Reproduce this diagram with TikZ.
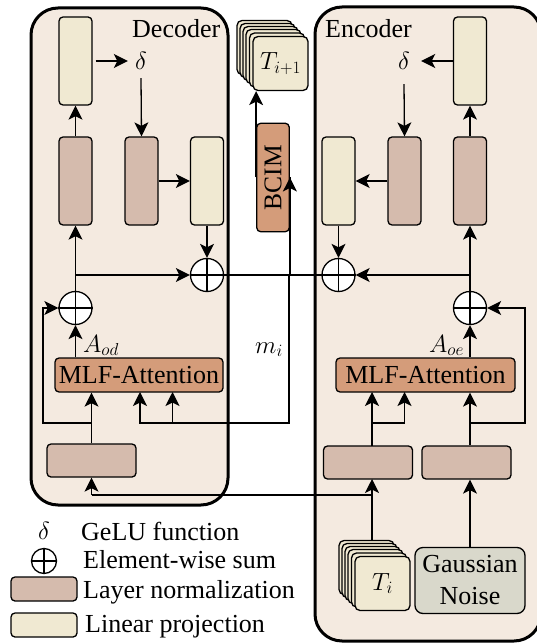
\documentclass[tikz,border=0pt]{standalone}
\usepackage[no-math]{fontspec}
\setmainfont{Liberation Serif}
\usetikzlibrary{arrows.meta,calc}
\definecolor{panel}{HTML}{F4EAE0}
\definecolor{lncol}{HTML}{D5BBAD}
\definecolor{lpcol}{HTML}{F0E9D2}
\definecolor{orcol}{HTML}{D49C7A}
\definecolor{gncol}{HTML}{D9D8CB}
\tikzset{
  panelbox/.style={draw,line width=3pt,rounded corners=27pt,fill=panel},
  blockbox/.style={draw,line width=1.3pt,rounded corners=4pt,inner sep=0pt},
  lnv/.style={blockbox,fill=lncol,minimum width=33pt,minimum height=88pt},
  lpv/.style={blockbox,fill=lpcol,minimum width=33pt,minimum height=88pt},
  lnh/.style={blockbox,fill=lncol,minimum width=89pt,minimum height=33pt},
  legbox/.style={blockbox,minimum width=66pt,minimum height=24pt},
  mlfbox/.style={blockbox,fill=orcol,minimum height=34pt,font=\fontsize{26}{30}\selectfont},
  sumnode/.style={draw,circle,fill=white,line width=1.3pt,minimum size=33pt,inner sep=0pt},
  card/.style={draw,line width=1.3pt,rounded corners=5pt,fill=lpcol,minimum width=55pt,minimum height=54pt,inner sep=0pt,font=\fontsize{26}{30}\selectfont},
  lab/.style={inner sep=0pt,anchor=base west,font=\fontsize{26}{30}\selectfont},
  deltanode/.style={inner sep=0pt,font=\fontsize{33}{36}\selectfont},
  conn/.style={line width=1.3pt},
  arr/.style={conn,-{Stealth[length=14pt,width=14pt,inset=3.5pt]}},
}
\newcommand{\crossin}[1]{\draw[conn] (#1.north)--(#1.south) (#1.west)--(#1.east);}
\begin{document}
\begin{tikzpicture}[x=1pt,y=-1pt]
\useasboundingbox (0,0) rectangle (536,644);
\fill[white] (0,0) rectangle (536,644);
% panels
\node[panelbox,minimum width=197pt,minimum height=497pt,inner sep=0pt] (dec) at (129.5,256.5) {};
\node[panelbox,minimum width=226pt,minimum height=634pt,inner sep=0pt] (enc) at (428,324) {};
\node[lab] (dect) at (132,38) {Decoder};
\node[lab] (enct) at (325,38) {Encoder};
% decoder blocks
\node[lpv] (dy1) at (75.5,61) {};
\node[lnv] (dr1) at (75.5,181) {};
\node[lnv] (dr2) at (141.5,181) {};
\node[lpv] (dy2) at (207,181) {};
\node[deltanode,minimum width=26pt,minimum height=34pt] (dd) at (141,61) {$\delta$};
\node[sumnode] (ds2) at (207,275) {};
\node[sumnode] (ds1) at (75.5,308) {};
\node[mlfbox,minimum width=168pt] (dm) at (139,375) {MLF-Attention};
\node[lnh] (dl) at (91.5,460.5) {};
% encoder blocks
\node[lpv] (ey1) at (470,61) {};
\node[lnv] (er1) at (470,181) {};
\node[lnv] (er2) at (404.5,181) {};
\node[lpv] (ey2) at (338.5,181) {};
\node[deltanode,minimum width=34pt,minimum height=46pt] (ed) at (404,61) {$\delta$};
\node[sumnode] (es2) at (338.5,275) {};
\node[sumnode] (es1) at (470,308) {};
\node[mlfbox,minimum width=179pt] (em) at (425.5,375) {MLF-Attention};
\node[lnh] (el1) at (368,462.5) {};
\node[lnh] (el2) at (466.5,462.5) {};
% BCIM
\node[blockbox,fill=orcol,minimum width=108.5pt,minimum height=32.5pt,rotate=90,font=\fontsize{25.5}{30}\selectfont] (bcim) at (273,177.5) {BCIM};
% output stack
\foreach \i/\d in {0/16,1/13,2/10,3/7,4/3.5}
  \node[card] (sa\i) at ({280.5-\d},{63.5-\d}) {};
\node[card] (ta) at (280.5,63.5) {$T_{i+1}$};
% input stack
\foreach \i/\d in {0/16,1/13,2/10,3/7,4/3.5}
  \node[card] (sb\i) at ({382.5-\d},{583.5-\d}) {};
\node[card] (tb) at (382.5,583.5) {$T_i$};
% gaussian
\node[blockbox,rounded corners=8pt,fill=gncol,minimum width=110pt,minimum height=66pt,align=center,font=\fontsize{26}{32}\selectfont] (gn) at (470,580.5) {Gaussian\\Noise};
% helper coordinates
\coordinate (mh) at (289,423);
\coordinate (mv) at (289,275);
\coordinate (fbl) at (43,423);
\coordinate (fbt) at (43,308);
\coordinate (fbr) at (525,423);
\coordinate (fbrt) at (525,308);
\coordinate (low) at (372,495);
% decoder connectors
\draw[arr,shorten <=3pt] (dy1.east) -- (dd.west);
\draw[arr] (dd.south) -- (dr2.north);
\draw[arr] (dr1.north) -- (dy1.south);
\draw[arr] (dr2.east) -- (dy2.west);
\draw[arr] (dy2.south) -- (ds2.north);
\draw[arr] (ds1.center) -- (dr1.south);
\draw[arr] (dr1.south |- ds2.west) -- (ds2.west);
\draw[conn] (ds2.east) -| (bcim.south);
\draw[arr] (dl.north) -- (dl.north |- dm.south);
\draw[arr] (fbl -| dl.north) -- (fbl) -- (fbt) -- (ds1.west);
\draw[arr] (dm.north -| ds1.south) -- (ds1.south);
\crossin{ds1}\crossin{ds2}
% skip connection
\draw[arr] (mv -| es2.center) -- (mv) -- (mh) -- (140,423) -- (140,392);
\draw[arr] (172.5,423) -- (172.5,392);
\draw[arr] (low -| dl.south) ++(0,0) -- (dl.south);
\draw[conn] (dl.south |- low) -- (low);
% bcim
\draw[arr] (ds2.east -| bcim.south) -- (bcim.south);
\draw[arr] (bcim.north) -- (bcim.north |- ta.south);
% encoder connectors
\draw[arr,shorten <=0pt] (ey1.west) -- (ed.east);
\draw[arr] (ed.south) -- (er2.north);
\draw[arr] (er1.north) -- (ey1.south);
\draw[arr] (er2.west) -- (ey2.east);
\draw[arr] (ey2.south) -- (es2.north);
\draw[arr] (es1.center) -- (er1.south);
\draw[arr] (er1.south |- es2.east) -- (es2.east);
\draw[arr] (em.north -| es1.south) -- (es1.south);
\draw[arr] (el2.north -| es1.south) -- (es1.south |- em.south);
\draw[arr] (fbr -| es1.south) -- (fbr) -- (fbrt) -- (es1.east);
\draw[arr] (372,445.7) -- (372,392);
\draw[arr] (372,423) -- (404.5,423) -- (404.5,392);
\draw[arr] (372,540) -- (372,479);
\draw[arr] (gn.north) -- (gn.north |- el2.south);
\crossin{es1}\crossin{es2}
% math labels
\node[lab] (aod) at (83,352) {$A_{od}$};
\node[lab] (aoe) at (429,352) {$A_{oe}$};
\node[lab] (mi) at (255,353) {$m_i$};
% legend
\node[inner sep=0pt,font=\fontsize{24}{28}\selectfont] (ld) at (44,531) {$\delta$};
\node[lab] (l1) at (81,540) {GeLU function};
\node[sumnode,minimum size=25pt] (ls) at (44,561) {};
\crossin{ls}
\node[lab] (l2) at (83,568) {Element-wise sum};
\node[legbox,fill=lncol] (ll) at (44,589) {};
\node[lab] (l3) at (83,598) {Layer normalization};
\node[legbox,fill=lpcol] (lp) at (44,625) {};
\node[lab] (l4) at (85,632.7) {Linear projection};
\end{tikzpicture}
\end{document}
